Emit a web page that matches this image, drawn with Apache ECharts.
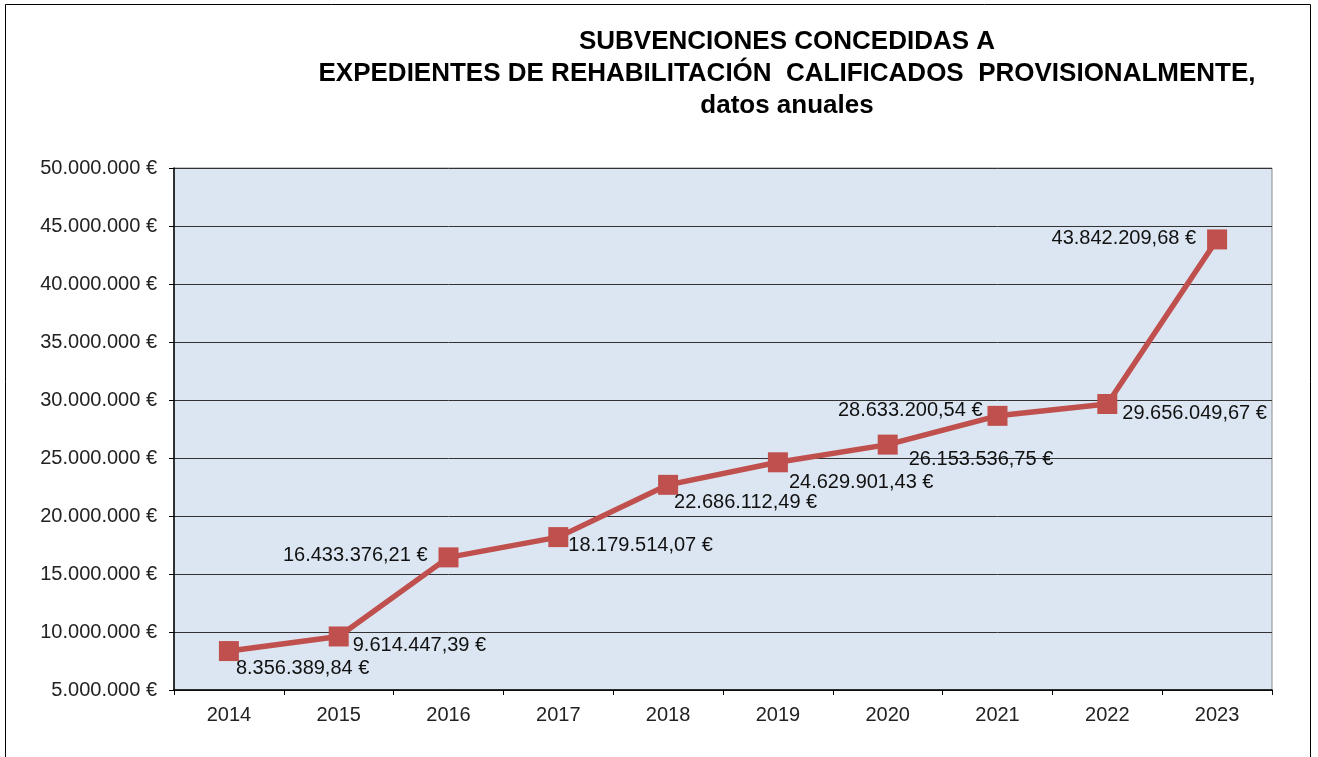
<!DOCTYPE html>
<html>
<head>
<meta charset="utf-8">
<script src="https://cdn.jsdelivr.net/npm/echarts@6/dist/echarts.min.js"></script>
<style>
html, body { margin: 0; padding: 0; background: #fff; }
#container { width: 1318px; height: 757px; }
</style>
</head>
<body>
<div id="container"></div>
<script>
// Data
var years = ['2014', '2015', '2016', '2017', '2018', '2019', '2020', '2021', '2022', '2023'];
var amounts = [8356389.84, 9614447.39, 16433376.21, 18179514.07, 22686112.49,
               24629901.43, 26153536.75, 28633200.54, 29656049.67, 43842209.68];
var labelSides = ['right', 'right', 'left', 'right', 'right', 'right', 'right', 'left', 'right', 'left'];
var labelShifts = [[-8, 17], [-1, 9], [-6, -2], [-5, 8], [-9, 18], [-4, 20], [6, 15], [0, -5], [0, 9], [-6, -1]];

// Spanish number format: 1.234.567,89
function fmt(v, dec) {
    var parts = v.toFixed(dec).split('.');
    var s = parts[0].replace(/\B(?=(\d{3})+(?!\d))/g, '.');
    return (parts.length > 1 ? s + ',' + parts[1] : s) + ' €';
}

var myChart = echarts.init(document.getElementById('container'));

var seriesData = amounts.map(function (v, i) {
    return {
        value: v,
        label: { position: labelSides[i], offset: labelShifts[i] }
    };
});

var option = {
    backgroundColor: '#fff',
    animation: false,
    title: {
        text: 'SUBVENCIONES CONCEDIDAS A\nEXPEDIENTES DE REHABILITACIÓN  CALIFICADOS  PROVISIONALMENTE,\ndatos anuales',
        left: 782,
        top: 21,
        textAlign: 'center',
        textStyle: {
            fontFamily: 'Liberation Sans, Arial, sans-serif',
            fontSize: 26,
            fontWeight: 'bold',
            color: '#000',
            lineHeight: 32
        }
    },
    graphic: [{
        type: 'rect',
        silent: true,
        shape: { x: 5.5, y: 4.5, width: 1305, height: 800 },
        style: { fill: 'none', stroke: '#000', lineWidth: 1 }
    }],
    grid: {
        left: 174,
        right: 46,
        top: 168,
        bottom: 67,
        show: true,
        backgroundColor: '#DCE6F2',
        borderColor: '#8c8c8c',
        borderWidth: 1
    },
    xAxis: {
        type: 'category',
        data: years,
        boundaryGap: true,
        axisLine: { lineStyle: { color: '#000', width: 1.5 } },
        axisTick: { show: true, length: 5, lineStyle: { color: '#000' } },
        axisLabel: {
            fontFamily: 'Liberation Sans, Arial, sans-serif',
            fontSize: 20,
            color: '#222',
            margin: 15
        }
    },
    yAxis: {
        type: 'value',
        min: 5000000,
        max: 50000000,
        interval: 5000000,
        axisLine: { show: true, lineStyle: { color: '#000', width: 1.5 } },
        axisTick: { show: true, length: 5, lineStyle: { color: '#000' } },
        splitLine: { lineStyle: { color: '#333', width: 1 } },
        axisLabel: {
            fontFamily: 'Liberation Sans, Arial, sans-serif',
            fontSize: 20,
            color: '#222',
            margin: 17,
            formatter: function (v) { return fmt(v, 0); }
        }
    },
    series: [{
        name: 'Subvenciones',
        type: 'line',
        data: seriesData,
        symbol: 'rect',
        symbolSize: 20,
        lineStyle: { color: '#C0504D', width: 5.5 },
        itemStyle: { color: '#C0504D' },
        label: {
            show: true,
            fontFamily: 'Liberation Sans, Arial, sans-serif',
            fontSize: 20,
            color: '#111',
            formatter: function (p) { return fmt(p.value, 2); }
        }
    }]
};
myChart.setOption(option);
</script>
</body>
</html>
